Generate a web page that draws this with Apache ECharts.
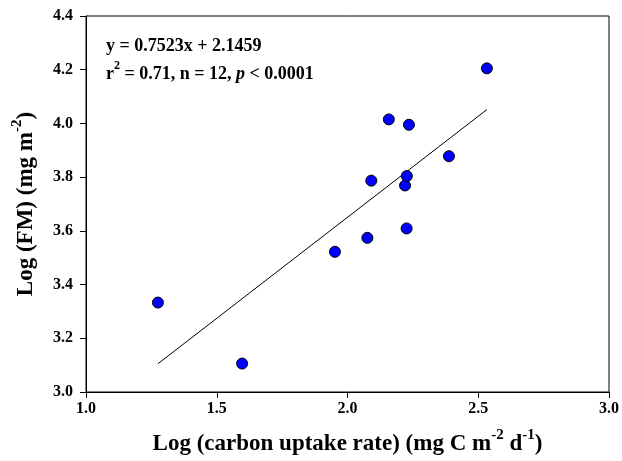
<!DOCTYPE html>
<html>
<head>
<meta charset="utf-8">
<script src="https://cdn.jsdelivr.net/npm/echarts@6/dist/echarts.min.js"></script>
<style>html,body{margin:0;padding:0;background:#fff;}#c{width:622px;height:461px;}</style>
</head>
<body>
<div id="c"></div>
<script>
// Data
var xValues = [1.275, 1.597, 1.952, 2.076, 2.226, 2.091, 2.220, 2.227, 2.388, 2.158, 2.235, 2.533];
var yValues = [3.333, 3.106, 3.522, 3.574, 3.609, 3.787, 3.769, 3.804, 3.878, 4.015, 3.995, 4.205];
var slope = 0.7523;
var intercept = 2.1459;
var fitRange = [1.275, 2.533];
var xTicks = [1.0, 1.5, 2.0, 2.5, 3.0];
var yTicks = [3.0, 3.2, 3.4, 3.6, 3.8, 4.0, 4.2, 4.4];

var points = xValues.map(function (x, i) { return [x, yValues[i]]; });
var fitLine = fitRange.map(function (x) { return [x, slope * x + intercept]; });

var serif = '"Liberation Serif", "Times New Roman", serif';
var chart = echarts.init(document.getElementById('c'), null, { renderer: 'canvas' });
chart.setOption({
  backgroundColor: '#fff',
  animation: false,
  grid: { left: 86, right: 12, top: 16, bottom: 67, show: true, borderColor: '#000', borderWidth: 1, containLabel: false },
  xAxis: {
    type: 'value', min: xTicks[0], max: xTicks[xTicks.length - 1], interval: 0.5,
    splitLine: { show: false },
    axisLine: { show: true, lineStyle: { color: '#000', width: 1 } },
    axisTick: { show: true, inside: false, length: 6, lineStyle: { color: '#000' } },
    axisLabel: { margin: 9, color: '#000', fontFamily: serif, fontWeight: 'bold', fontSize: 16,
      formatter: function (v) { return v.toFixed(1); } },
    name: '{t|Log (carbon uptake rate) (mg C m}{s|-2}{t| d}{s|-1}{t|)}',
    nameLocation: 'middle', nameGap: 36,
    nameTextStyle: {
      rich: {
        t: { fontFamily: serif, fontWeight: 'bold', fontSize: 23, color: '#000', lineHeight: 28, verticalAlign: 'bottom' },
        s: { fontFamily: serif, fontWeight: 'bold', fontSize: 15, color: '#000', lineHeight: 28, verticalAlign: 'top' }
      }
    }
  },
  yAxis: {
    type: 'value', min: yTicks[0], max: yTicks[yTicks.length - 1], interval: 0.2,
    splitLine: { show: false },
    axisLine: { show: true, lineStyle: { color: '#000', width: 1 } },
    axisTick: { show: true, inside: false, length: 6, lineStyle: { color: '#000' } },
    axisLabel: { margin: 13, color: '#000', fontFamily: serif, fontWeight: 'bold', fontSize: 16,
      formatter: function (v) { return v.toFixed(1); } },
    name: '{t|Log (FM) (mg m}{s|-2}{t|)}',
    nameLocation: 'middle', nameGap: 48, nameRotate: 90,
    nameTextStyle: {
      rich: {
        t: { fontFamily: serif, fontWeight: 'bold', fontSize: 23, color: '#000', lineHeight: 28, verticalAlign: 'bottom' },
        s: { fontFamily: serif, fontWeight: 'bold', fontSize: 15, color: '#000', lineHeight: 28, verticalAlign: 'top' }
      }
    }
  },
  graphic: [
    { type: 'text', left: 106, top: 37, style: { text: 'y = 0.7523x + 2.1459', fontFamily: serif, fontWeight: 'bold', fontSize: 18, fill: '#000' } },
    { type: 'text', left: 106, top: 60, style: {
        text: '{t|r}{s|2}{t| = 0.71, n = 12, }{i|p}{t| < 0.0001}',
        rich: {
          t: { fontFamily: serif, fontWeight: 'bold', fontSize: 18, fill: '#000', lineHeight: 23, verticalAlign: 'bottom' },
          i: { fontFamily: serif, fontWeight: 'bold', fontStyle: 'italic', fontSize: 18, fill: '#000', lineHeight: 23, verticalAlign: 'bottom' },
          s: { fontFamily: serif, fontWeight: 'bold', fontSize: 12, fill: '#000', lineHeight: 23, verticalAlign: 'top' }
        } } }
  ],
  series: [
    { type: 'line', data: fitLine, symbol: 'none', lineStyle: { color: '#000', width: 1 }, silent: true, z: 2 },
    { type: 'scatter', data: points, symbol: 'circle', symbolSize: 11,
      itemStyle: { color: '#0000ff', borderColor: '#000', borderWidth: 1, opacity: 1 }, z: 3 }
  ]
});
</script>
</body>
</html>
